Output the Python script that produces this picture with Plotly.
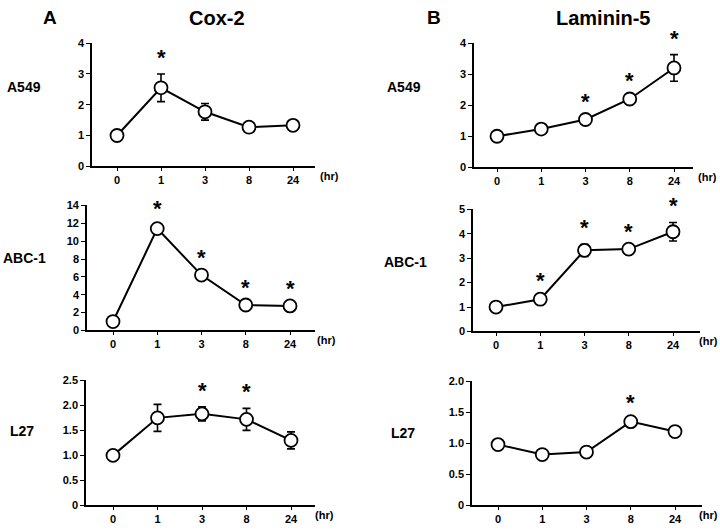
import plotly.graph_objects as go

times = ["0", "1", "3", "8", "24"]

cox2_a549 = [1.0, 2.55, 1.77, 1.27, 1.33]
cox2_a549_err = [0.0, 0.45, 0.27, 0.05, 0.17]
cox2_a549_sig = [False, True, False, False, False]

cox2_abc1 = [1.0, 11.4, 6.2, 2.85, 2.75]
cox2_abc1_err = [0.0, 0.35, 0.1, 0.1, 0.1]
cox2_abc1_sig = [False, True, True, True, True]

cox2_l27 = [1.0, 1.75, 1.83, 1.72, 1.30]
cox2_l27_err = [0.0, 0.27, 0.14, 0.22, 0.17]
cox2_l27_sig = [False, False, True, True, False]

lam5_a549 = [1.0, 1.23, 1.54, 2.2, 3.2]
lam5_a549_err = [0.0, 0.03, 0.04, 0.05, 0.43]
lam5_a549_sig = [False, False, True, True, True]

lam5_abc1 = [1.0, 1.32, 3.32, 3.37, 4.08]
lam5_abc1_err = [0.0, 0.08, 0.25, 0.05, 0.38]
lam5_abc1_sig = [False, True, True, True, True]

lam5_l27 = [0.98, 0.82, 0.86, 1.35, 1.19]
lam5_l27_err = [0.0, 0.05, 0.02, 0.05, 0.03]
lam5_l27_sig = [False, False, False, True, False]

row_labels = ["A549", "ABC-1", "L27"]
col_titles = ["Cox-2", "Laminin-5"]
col_letters = ["A", "B"]

y_ranges = [[0, 4], [0, 14], [0, 2.5], [0, 4], [0, 5], [0, 2.0]]
y_ticks = [
    ([0, 1, 2, 3, 4], ["0", "1", "2", "3", "4"]),
    ([0, 2, 4, 6, 8, 10, 12, 14], ["0", "2", "4", "6", "8", "10", "12", "14"]),
    ([0, 0.5, 1.0, 1.5, 2.0, 2.5], ["0", "0.5", "1.0", "1.5", "2.0", "2.5"]),
    ([0, 1, 2, 3, 4], ["0", "1", "2", "3", "4"]),
    ([0, 1, 2, 3, 4, 5], ["0", "1", "2", "3", "4", "5"]),
    ([0, 0.5, 1.0, 1.5, 2.0], ["0", "0.5", "1.0", "1.5", "2.0"]),
]

panels = [
    (cox2_a549, cox2_a549_err, cox2_a549_sig),
    (cox2_abc1, cox2_abc1_err, cox2_abc1_sig),
    (cox2_l27, cox2_l27_err, cox2_l27_sig),
    (lam5_a549, lam5_a549_err, lam5_a549_sig),
    (lam5_abc1, lam5_abc1_err, lam5_abc1_sig),
    (lam5_l27, lam5_l27_err, lam5_l27_sig),
]

W, H = 720, 530
# pixel geometry: (axis_left, axis_right, x0_pos, x24_pos, y_top_px, y_bottom_px, hr_x)
geom = [
    (92, 315, 117, 293, 38, 164, 329),
    (87, 315, 113, 290, 204, 332, 326),
    (86, 315, 113, 291, 383, 511, 324),
    (474, 693, 497, 674, 38, 165, 707),
    (473, 700, 496, 673, 208, 333, 708),
    (472, 702, 498, 675, 384, 511, 708),
]

FONT = "Liberation Sans, Arial, Helvetica, sans-serif"
fig = go.Figure()
layout = {}
annotations = []

for i, ((vals, errs, sig), g) in enumerate(zip(panels, geom)):
    al, ar, p0, p4, yt, yb, hrx = g
    scale = (p4 - p0) / 4.0
    xr = [-(p0 - al) / scale, 4 + (ar - p4) / scale]
    xa = "xaxis" if i == 0 else f"xaxis{i+1}"
    ya = "yaxis" if i == 0 else f"yaxis{i+1}"
    xref = "x" if i == 0 else f"x{i+1}"
    yref = "y" if i == 0 else f"y{i+1}"
    xs = list(range(len(times)))
    fig.add_trace(go.Scatter(
        x=xs, y=vals, xaxis=xref, yaxis=yref, mode="lines+markers",
        line=dict(color="black", width=2),
        marker=dict(size=13, color="white", line=dict(color="black", width=1.8)),
        error_y=dict(type="data", array=errs, visible=True, color="black",
                     thickness=1.6, width=4),
        showlegend=False, cliponaxis=False, hoverinfo="skip",
    ))
    layout[xa] = dict(
        domain=[al / W, ar / W], range=xr, anchor=yref,
        tickvals=xs, ticktext=times, showline=True, linecolor="black",
        linewidth=1.6, ticks="outside", ticklen=3, tickwidth=1.4,
        tickcolor="black", showgrid=False, zeroline=False,
        tickfont=dict(family=FONT, size=11, color="black", weight="bold"),
        fixedrange=True,
    )
    tv, tt = y_ticks[i]
    layout[ya] = dict(
        domain=[1 - yb / H, 1 - yt / H], range=y_ranges[i], anchor=xref,
        tickvals=tv, ticktext=tt, showline=True, linecolor="black",
        linewidth=1.6, ticks="outside", ticklen=4, tickwidth=1.4,
        tickcolor="black", showgrid=False, zeroline=False,
        tickfont=dict(family=FONT, size=11, color="black", weight="bold"),
        fixedrange=True,
    )
    for j, s in enumerate(sig):
        if s:
            annotations.append(dict(
                x=j, y=vals[j] + errs[j], xref=xref, yref=yref, text="*",
                showarrow=False, yanchor="bottom", yshift=2,
                font=dict(family=FONT, size=22, color="black", weight="bold"),
            ))
    # (hr) label
    annotations.append(dict(
        x=hrx / W, y=1 - (yb + 10) / H, xref="paper", yref="paper",
        text="(hr)", showarrow=False, xanchor="center", yanchor="middle",
        font=dict(family=FONT, size=11, color="black", weight="bold"),
    ))

# row labels
row_label_pos = [(24, 83), (24, 258), (22, 435), (404, 83), (405, 262), (403, 437)]
for k, (px, py) in enumerate(row_label_pos):
    annotations.append(dict(
        x=px / W, y=1 - py / H, xref="paper", yref="paper",
        text=row_labels[k % 3], showarrow=False, xanchor="center", yanchor="middle",
        font=dict(family=FONT, size=14, color="black", weight="bold"),
    ))

# column titles
for c, (lx, tx) in enumerate([(50, 217), (434, 603)]):
    annotations.append(dict(
        x=lx / W, y=1 - 12 / H, xref="paper", yref="paper", text=col_letters[c],
        showarrow=False, xanchor="center", yanchor="middle",
        font=dict(family=FONT, size=19, color="black", weight="bold"),
    ))
    annotations.append(dict(
        x=tx / W, y=1 - 12 / H, xref="paper", yref="paper", text=col_titles[c],
        showarrow=False, xanchor="center", yanchor="middle",
        font=dict(family=FONT, size=20, color="black", weight="bold"),
    ))

fig.update_layout(
    width=W, height=H, margin=dict(l=0, r=0, t=0, b=0),
    paper_bgcolor="white", plot_bgcolor="white",
    annotations=annotations, **layout,
)
fig.write_html(
    "out.html",
    config={"displayModeBar": False},
    post_script="document.body.style.margin='0';document.body.style.padding='0';document.body.style.overflow='hidden';",
)
